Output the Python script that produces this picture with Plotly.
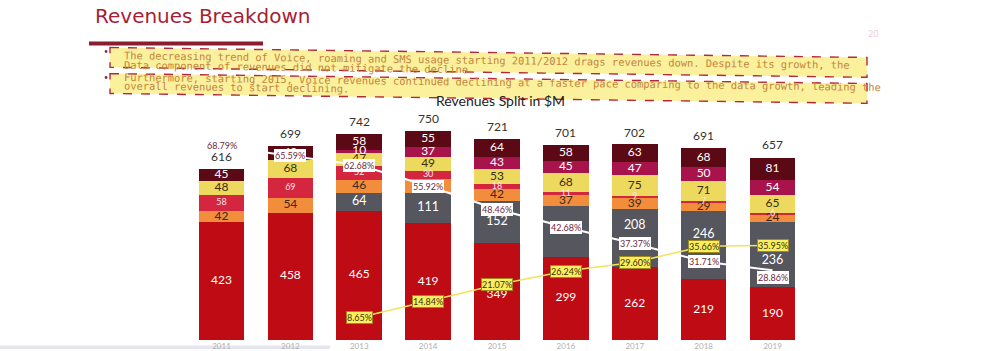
import plotly.graph_objects as go

# ---------------- data ----------------
years = ["2011", "2012", "2013", "2014", "2015", "2016", "2017", "2018", "2019"]

voice = [423, 458, 465, 419, 349, 299, 262, 219, 190]
data = [None, None, 64, 111, 152, 184, 208, 246, 236]
roaming = [42, 54, 46, 49, 42, 37, 39, 29, 24]
sms = [58, 69, 52, 30, 18, 11, 9, 7, 6]
vas = [48, 68, 47, 49, 53, 68, 75, 71, 65]
interconnect = [None, None, 10, 37, 43, 45, 47, 50, 54]
other = [45, 49, 58, 55, 64, 58, 63, 68, 81]

totals = [616, 699, 742, 750, 721, 701, 702, 691, 657]

voice_share = [68.79, 65.59, 62.68, 55.92, 48.46, 42.68, 37.37, 31.71, 28.86]
data_years = years[2:]
data_share = [8.65, 14.84, 21.07, 26.24, 29.60, 35.66, 35.95]

title_text = "Revenues Breakdown"
chart_title = "Revenues Split in $M"
page_no = "20"
note1 = ["The decreasing trend of Voice, roaming and SMS usage starting 2011/2012 drags revenues down. Despite its growth, the",
         "Data component of revenues did not mitigate the decline."]
note2 = ["Furthermore, starting 2015, Voice revenues continued declining at a faster pace comparing to the data growth, leading the",
         "overall revenues to start declining."]

# manual label nudges (pixels, positive = down), as placed on the original slide
label_nudge_px = {("Data", "2017"): -12, ("Data", "2018"): -10,
                  ("Data", "2019"): 7, ("Voice", "2015"): 4}
voice_share_nudge_px = {"2019": 7}

# ---------------- layout helpers ----------------
W, H = 1000, 351
PLOT_TOP, PLOT_BOT = 110, 342
Y_MAX = 827
PX_PER_UNIT = (PLOT_BOT - PLOT_TOP) / Y_MAX


def px(p):
    return p / W


def py(p):
    return (PLOT_BOT - p) / (PLOT_BOT - PLOT_TOP)


FONT = "Lato, 'Open Sans', sans-serif"

series = [
    ("Voice", voice, "#BE0B14", "white", 12),
    ("Data", data, "#55565E", "white", 12.5),
    ("Roaming", roaming, "#F28D3C", "#3a2a1a", 12),
    ("SMS", sms, "#D52640", "#FCE4E8", 9),
    ("VAS", vas, "#ECD95E", "#3a3010", 12),
    ("Interconnect", interconnect, "#A8134C", "white", 12),
    ("Other", other, "#5B0914", "white", 12),
]

fig = go.Figure()
base = [0] * len(years)
label_traces = []
for name, vals, col, tcol, tsize in series:
    fig.add_trace(go.Bar(
        x=years, y=vals, name=name,
        marker=dict(color=col, line=dict(width=0)),
        showlegend=False, hoverinfo="skip",
    ))
    lx, ly, lt = [], [], []
    for i, v in enumerate(vals):
        if v is None:
            continue
        nudge = label_nudge_px.get((name, years[i]), 0)
        lx.append(years[i])
        ly.append(base[i] + v / 2 - nudge / PX_PER_UNIT)
        lt.append(str(v))
        base[i] += v
    label_traces.append(go.Scatter(
        x=lx, y=ly, text=lt, mode="text", textposition="middle center",
        textfont=dict(color=tcol, size=tsize, family=FONT),
        showlegend=False, hoverinfo="skip",
    ))

for tr in label_traces:
    fig.add_trace(tr)

fig.add_trace(go.Scatter(
    x=years, y=voice_share, yaxis="y2", mode="lines",
    line=dict(color="white", width=2), showlegend=False, hoverinfo="skip",
))
fig.add_trace(go.Scatter(
    x=data_years, y=data_share, yaxis="y3", mode="lines",
    line=dict(color="#F2E35E", width=1.6), showlegend=False, hoverinfo="skip",
))

annotations = []
# totals (x given as category index)
for i, t in enumerate(totals):
    annotations.append(dict(x=i, y=t, xref="x", yref="y", text=str(t),
                            showarrow=False, xanchor="center", yanchor="bottom", yshift=3,
                            font=dict(size=12, color="#333333", family=FONT)))
# voice share labels
for i, v in enumerate(voice_share):
    annotations.append(dict(x=i, y=v, xref="x", yref="y2", text=f"{v:.2f}%",
                            showarrow=False, xanchor="center", yanchor="middle",
                            yshift=-voice_share_nudge_px.get(years[i], 0),
                            bgcolor="white", borderwidth=0, borderpad=1,
                            font=dict(size=9, color="#6A2A40", family=FONT)))
# data share labels
first = years.index(data_years[0])
for j, v in enumerate(data_share):
    annotations.append(dict(x=first + j, y=v, xref="x", yref="y3", text=f"{v:.2f}%",
                            showarrow=False, xanchor="center", yanchor="middle",
                            bgcolor="#FBEE5E", bordercolor="#A08A20",
                            borderwidth=1, borderpad=0,
                            font=dict(size=9, color="#3A3010", family=FONT)))

# header
annotations.append(dict(x=px(93), y=py(15), xref="paper", yref="paper", text=title_text,
                        showarrow=False, xanchor="left", yanchor="middle",
                        font=dict(size=20, color="#A61E35", family="DejaVu Sans")))
annotations.append(dict(x=px(873), y=py(33), xref="paper", yref="paper", text=page_no,
                        showarrow=False, xanchor="center", yanchor="middle",
                        font=dict(size=9, color="#F2CADA", family=FONT)))
annotations.append(dict(x=px(500), y=py(100), xref="paper", yref="paper", text=chart_title,
                        showarrow=False, xanchor="center", yanchor="middle",
                        font=dict(size=14, color="#222222", family=FONT)))

ANG = 0.757
SLOPE = 0.0132
CH = 6.3
note_lines = [(note1[0], 54.3), (note1[1], 64.0), (note2[0], 76.7), (note2[1], 85.5)]
for txt, ly in note_lines:
    half = len(txt) * CH / 2
    annotations.append(dict(x=px(122), y=py(ly + SLOPE * half), xref="paper", yref="paper",
                            text=txt, showarrow=False, xanchor="left", yanchor="middle",
                            textangle=ANG,
                            font=dict(size=10.4, color="#C2843C", family="DejaVu Sans Mono")))
for by in (50, 77):
    annotations.append(dict(x=px(106), y=py(by), xref="paper", yref="paper", text="•",
                            showarrow=False, xanchor="center", yanchor="middle",
                            font=dict(size=7, color="#8B1E2E", family=FONT)))

shapes = []
# underline bar
shapes.append(dict(type="rect", xref="paper", yref="paper",
                   x0=px(89), x1=px(263), y0=py(45), y1=py(41),
                   fillcolor="#8B1E2E", line=dict(width=0)))


def quad(tl, tr, br, bl):
    pts = [tl, tr, br, bl]
    return "M " + " L ".join(f"{px(a):.5f},{py(b):.5f}" for a, b in pts) + " Z"


shapes.append(dict(type="path", xref="paper", yref="paper", layer="above",
                   path=quad((110, 47), (867, 57), (867, 77), (110, 67)),
                   fillcolor="rgba(250,238,140,0.85)",
                   line=dict(color="#B3283A", width=1.4, dash="dash")))
shapes.append(dict(type="path", xref="paper", yref="paper", layer="above",
                   path=quad((110, 73.3), (867, 83.3), (867, 103.3), (110, 93.3)),
                   fillcolor="rgba(250,238,140,0.85)",
                   line=dict(color="#B3283A", width=1.4, dash="dash")))
# scan strip at bottom left
shapes.append(dict(type="rect", xref="paper", yref="paper",
                   x0=px(0), x1=px(330), y0=py(351), y1=py(347.5),
                   fillcolor="#E6E6EE", line=dict(width=0), layer="below"))

fig.update_layout(
    width=W, height=H, autosize=False,
    margin=dict(l=0, r=0, t=PLOT_TOP, b=H - PLOT_BOT, pad=0),
    paper_bgcolor="white", plot_bgcolor="white",
    barmode="stack", bargap=0.337,
    font=dict(family=FONT),
    xaxis=dict(type="category", categoryorder="array", categoryarray=years,
               range=[-3.216, 11.303], showgrid=False, zeroline=False, showline=False,
               ticks="", tickfont=dict(size=8, color="#B0B0B0")),
    yaxis=dict(range=[0, Y_MAX], visible=False, fixedrange=True),
    yaxis2=dict(range=[6.46, 80.35], overlaying="y", visible=False),
    yaxis3=dict(range=[0.15, 87.2], overlaying="y", visible=False),
    annotations=annotations,
    shapes=shapes,
)

fig.write_html("out.html")
